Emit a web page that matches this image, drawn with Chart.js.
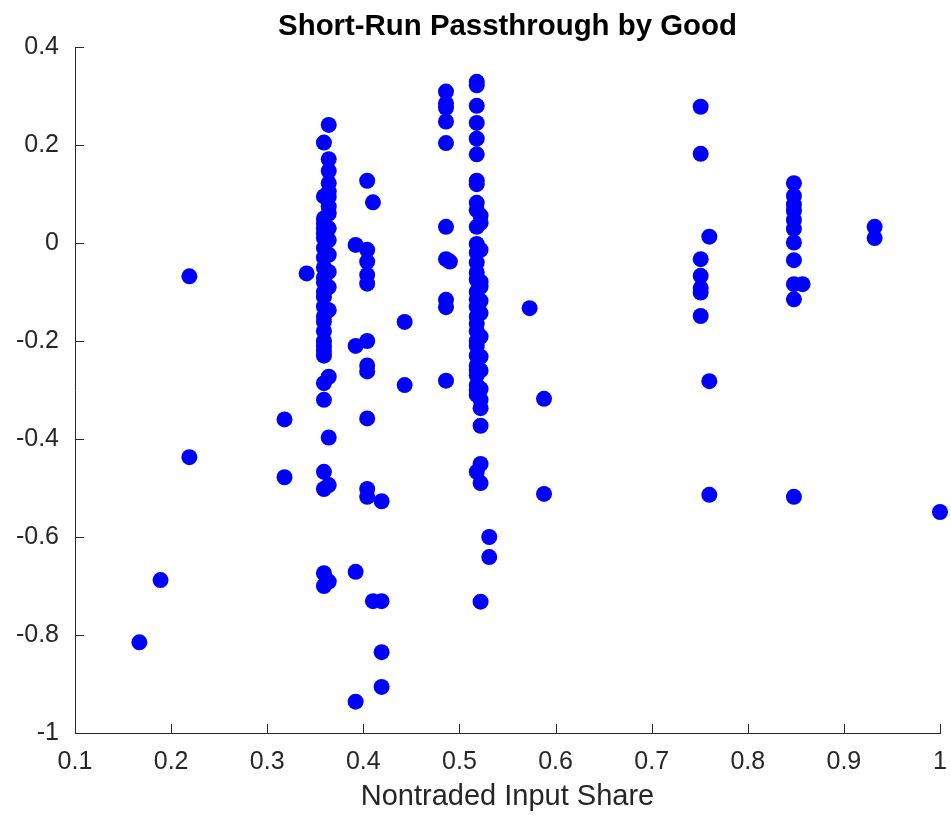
<!DOCTYPE html>
<html>
<head>
<meta charset="utf-8">
<script src="https://cdn.jsdelivr.net/npm/chart.js@4.4.1/dist/chart.umd.min.js"></script>
<style>
  html, body { margin: 0; padding: 0; background: #fff; }
  #chart { display: block; }
</style>
</head>
<body>
<canvas id="chart" width="951" height="821"></canvas>
<script>
// ── data: one entry per good ──
const inputShare = [
    0.167, 0.189, 0.219, 0.219, 0.318, 0.318, 0.341,
    // 0.359 column
    0.359, 0.359, 0.359, 0.359, 0.359, 0.359, 0.359, 0.359, 0.359, 0.359,
    0.359, 0.359, 0.359, 0.359, 0.359, 0.359, 0.359, 0.359, 0.359, 0.359,
    0.359, 0.359, 0.359, 0.359, 0.359, 0.359, 0.359, 0.359,
    // 0.364 column
    0.364, 0.364, 0.364, 0.364, 0.364, 0.364, 0.364, 0.364, 0.364, 0.364,
    0.364, 0.364, 0.364, 0.364, 0.364, 0.364, 0.364, 0.364,
    0.392, 0.392, 0.392, 0.392,
    0.404, 0.404, 0.404, 0.404, 0.404, 0.404, 0.404, 0.404, 0.404, 0.404, 0.404,
    0.410, 0.410,
    0.419, 0.419, 0.419, 0.419,
    0.443, 0.443,
    // 0.486 column
    0.486, 0.486, 0.486, 0.486, 0.486, 0.486, 0.486, 0.486, 0.486, 0.486, 0.490,
    // 0.518 column
    0.518, 0.518, 0.518, 0.518, 0.518, 0.518, 0.518, 0.518, 0.518, 0.518, 0.518,
    0.518, 0.518, 0.518, 0.518, 0.518, 0.518, 0.518, 0.518, 0.518, 0.518,
    0.518, 0.518, 0.518, 0.518, 0.518, 0.518, 0.518, 0.518, 0.518, 0.518, 0.518,
    // 0.522 column
    0.522, 0.522, 0.522, 0.522, 0.522, 0.522, 0.522, 0.522, 0.522, 0.522,
    0.522, 0.522, 0.522, 0.522, 0.522, 0.522, 0.522,
    0.531, 0.531,
    0.573, 0.588, 0.588,
    0.751, 0.751, 0.751, 0.751, 0.751, 0.751, 0.751,
    0.760, 0.760, 0.760,
    0.848, 0.848, 0.848, 0.848, 0.848, 0.848, 0.848, 0.848, 0.848, 0.848, 0.848,
    0.857,
    0.932, 0.932,
    1.000
];

const passthrough = [
    -0.815, -0.688, -0.068, -0.437, -0.360, -0.478, -0.062,
    // 0.359 column
    0.205, 0.095, 0.050, 0.040, 0.030, 0.020, 0.010, -0.010, -0.030, -0.050,
    -0.070, -0.080, -0.100, -0.110, -0.130, -0.150, -0.160, -0.180, -0.200, -0.210,
    -0.220, -0.230, -0.286, -0.320, -0.467, -0.502, -0.674, -0.700,
    // 0.364 column
    0.241, 0.171, 0.147, 0.122, 0.105, 0.094, 0.074, 0.060, 0.030, 0.006,
    -0.024, -0.059, -0.090, -0.137, -0.273, -0.397, -0.494, -0.691,
    -0.004, -0.210, -0.671, -0.936,
    0.127, -0.014, -0.038, -0.065, -0.083, -0.200, -0.250, -0.262, -0.358, -0.502, -0.518,
    0.083, -0.731,
    -0.527, -0.731, -0.835, -0.906,
    -0.161, -0.290,
    // 0.486 column
    0.309, 0.285, 0.276, 0.248, 0.204, 0.033, -0.033, -0.116, -0.131, -0.281, -0.038,
    // 0.518 column
    0.329, 0.322, 0.280, 0.245, 0.213, 0.181, 0.127, 0.120, 0.082, 0.067, 0.033,
    -0.002, -0.020, -0.040, -0.060, -0.075, -0.100, -0.115, -0.130, -0.150, -0.165,
    -0.180, -0.200, -0.210, -0.230, -0.250, -0.270, -0.290, -0.300, -0.310, -0.467, -0.259,
    // 0.522 column
    0.056, 0.041, -0.014, -0.079, -0.089, -0.118, -0.143, -0.191, -0.232, -0.298,
    -0.320, -0.337, -0.373, -0.451, -0.490, -0.732, -0.260,
    -0.600, -0.641,
    -0.133, -0.318, -0.512,
    0.278, 0.182, -0.033, -0.067, -0.092, -0.101, -0.149,
    0.013, -0.282, -0.514,
    0.122, 0.096, 0.078, 0.066, 0.047, 0.029, 0.001, -0.035, -0.084, -0.115, -0.518,
    -0.084,
    0.033, 0.010,
    -0.549
];

const xTicks = [0.1, 0.2, 0.3, 0.4, 0.5, 0.6, 0.7, 0.8, 0.9, 1];
const yTicks = [-1, -0.8, -0.6, -0.4, -0.2, 0, 0.2, 0.4];
const chartTitle = 'Short-Run Passthrough by Good';

const FONT = "'Liberation Sans', Arial, Helvetica, sans-serif";
const AXIS = '#262626';

// MATLAB-style tick marks pointing into the plot, title centred over the axes
const axesDecor = {
    id: 'axesDecor',
    afterDatasetsDraw(chart) {
        const { ctx, chartArea: a, scales: { x, y } } = chart;
        ctx.save();
        ctx.strokeStyle = AXIS;
        ctx.lineWidth = 1;
        ctx.beginPath();
        x.ticks.forEach(t => {
            const px = Math.round(x.getPixelForValue(t.value)) + 0.5;
            ctx.moveTo(px, a.bottom); ctx.lineTo(px, a.bottom - 9);
        });
        y.ticks.forEach(t => {
            const py = Math.round(y.getPixelForValue(t.value)) + 0.5;
            ctx.moveTo(a.left, py); ctx.lineTo(a.left + 9, py);
        });
        ctx.stroke();

        ctx.fillStyle = '#000';
        ctx.font = `bold 29.4px ${FONT}`;
        ctx.textAlign = 'center';
        ctx.textBaseline = 'alphabetic';
        ctx.fillText(chartTitle, (a.left + a.right) / 2, 35);
        ctx.restore();
    }
};

const points = inputShare.map((v, i) => ({ x: v, y: passthrough[i] }));
const fmt = v => String(+Number(v).toFixed(1));

new Chart(document.getElementById('chart'), {
    type: 'scatter',
    data: {
        datasets: [{
            data: points,
            backgroundColor: '#0000ff',
            borderWidth: 0,
            pointRadius: 8,
            pointHoverRadius: 8,
            clip: false
        }]
    },
    options: {
        responsive: false,
        animation: false,
        layout: { padding: { top: 47, right: 11, bottom: 0, left: 0 } },
        plugins: {
            legend: { display: false },
            tooltip: { enabled: false },
            title: { display: false }
        },
        scales: {
            x: {
                type: 'linear',
                min: 0.1, max: 1,
                afterBuildTicks: s => { s.ticks = xTicks.map(v => ({ value: v })); },
                afterFit: s => { s.height = 88; s.paddingLeft = 0; s.paddingRight = 0; },
                grid: { display: false, drawTicks: false },
                border: { display: true, color: AXIS, width: 1 },
                ticks: {
                    padding: 14, color: AXIS, maxRotation: 0,
                    font: { family: FONT, size: 25 },
                    callback: fmt
                },
                title: {
                    display: true, text: 'Nontraded Input Share', color: AXIS,
                    font: { family: FONT, size: 29 },
                    padding: { top: 0, bottom: 7 }
                }
            },
            y: {
                type: 'linear',
                min: -1, max: 0.4,
                afterBuildTicks: s => { s.ticks = yTicks.map(v => ({ value: v })); },
                afterFit: s => { s.width = 75; s.paddingTop = 0; s.paddingBottom = 0; },
                grid: { display: false, drawTicks: false },
                border: { display: true, color: AXIS, width: 1 },
                ticks: {
                    padding: 16, color: AXIS,
                    font: { family: FONT, size: 25 },
                    callback: fmt
                }
            }
        }
    },
    plugins: [axesDecor]
});
</script>
</body>
</html>
